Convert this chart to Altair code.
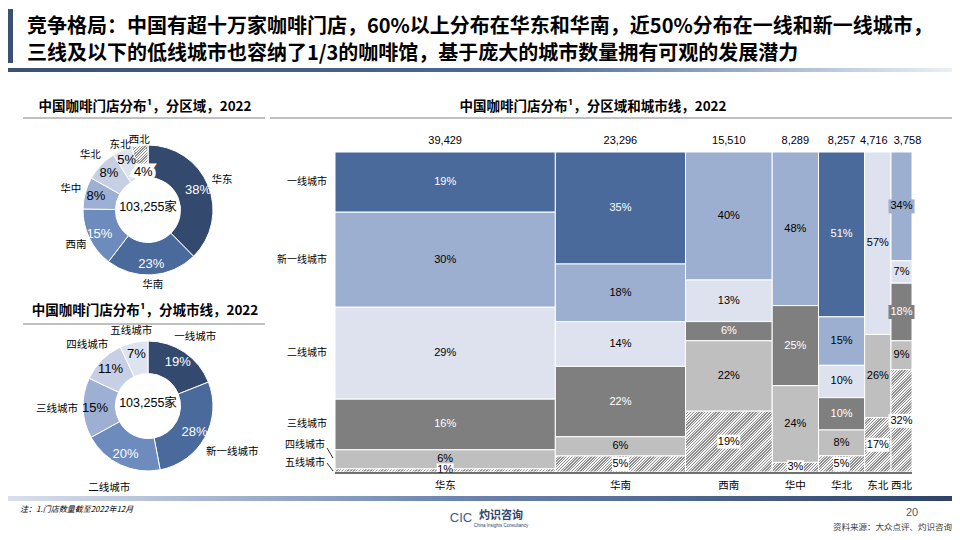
import math
import pandas as pd
import altair as alt

# ---------------- data ----------------
regions = ["华东", "华南", "西南", "华中", "华北", "东北", "西北"]
region_stores = [39429, 23296, 15510, 8289, 8257, 4716, 3758]
region_share = [38, 23, 15, 8, 8, 5, 4]

tiers = ["一线城市", "新一线城市", "二线城市", "三线城市", "四线城市", "五线城市"]
tier_share = [19, 28, 20, 15, 11, 7]
total_label = "103,255家"

# share of each city tier inside each region (order follows `regions`)
pct_tier1 = [19, 35, 0, 0, 51, 0, 0]
pct_newtier1 = [30, 18, 40, 48, 15, 0, 34]
pct_tier2 = [29, 14, 13, 0, 10, 57, 7]
pct_tier3 = [16, 22, 6, 25, 10, 0, 18]
pct_tier4 = [6, 6, 22, 24, 8, 26, 9]
pct_tier5 = [1, 5, 19, 3, 5, 17, 32]
tier_pcts = [pct_tier1, pct_newtier1, pct_tier2, pct_tier3, pct_tier4, pct_tier5]

title_1 = "竞争格局：中国有超十万家咖啡门店，60%以上分布在华东和华南，近50%分布在一线和新一线城市，"
title_2 = "三线及以下的低线城市也容纳了1/3的咖啡馆，基于庞大的城市数量拥有可观的发展潜力"
sub_1 = "中国咖啡门店分布¹，分区域，2022"
sub_2 = "中国咖啡门店分布¹，分城市线，2022"
sub_3 = "中国咖啡门店分布¹，分区域和城市线，2022"
note = "注：1.门店数量截至2022年12月"
source = "资料来源：大众点评、灼识咨询"
page_no = "20"

# ---------------- styling ----------------
CJK = "Noto Sans CJK SC"
LAT = "Liberation Sans"
MIX = "Liberation Sans, Noto Sans CJK SC"
OFF = 8


def X(v):
    return v - OFF


def Y(v):
    return v - OFF


DONUT_PAL = ["#34496e", "#4b6a9c", "#6d8bbd", "#9db0d3", "#c6cfe3", "#dde3ef", "#dde3ef"]
MEKKO_FILL = {"一线城市": "#4a6a9b", "新一线城市": "#9cafd1", "二线城市": "#dde2ee",
              "三线城市": "#7f7f7f", "四线城市": "#bfbfbf", "五线城市": "#ffffff"}
MEKKO_TXT = {"一线城市": "white", "三线城市": "white"}


def hatch(w, h, period=2.0, dark="#8e8e8e", light="#f4f4f4", frac=0.5):
    w = max(w, 1.0)
    h = max(h, 1.0)
    L = (w * w + h * h) / (w + h)
    n = max(1, int(round((w + h) / (period * math.sqrt(2)))))
    stops = []
    for k in range(n):
        a, b, c = k / n, (k + frac) / n, (k + 1) / n
        stops += [{"offset": a, "color": dark}, {"offset": b, "color": dark},
                  {"offset": b, "color": light}, {"offset": c, "color": light}]
    return {"gradient": "linear", "x1": 0, "y1": 0, "x2": w / L, "y2": h / L, "stops": stops}


DUMMY = pd.DataFrame({"d": [0]})


def txt(t, x, y, size=10, font=CJK, color="#000000", weight="normal", align="center",
        baseline="middle", italic=False):
    kw = dict(text=t, fontSize=size, font=font, color=color, fontWeight=weight,
              align=align, baseline=baseline)
    if italic:
        kw["fontStyle"] = "italic"
    return alt.Chart(DUMMY).mark_text(**kw).encode(x=alt.value(X(x)), y=alt.value(Y(y)))


def rule(x0, y0, x1, y1, color="#808080", w=1.0):
    return alt.Chart(DUMMY).mark_rule(color=color, strokeWidth=w).encode(
        x=alt.value(X(x0)), y=alt.value(Y(y0)), x2=alt.value(X(x1)), y2=alt.value(Y(y1)))


def band(x0, y0, x1, y1, fill):
    return alt.Chart(DUMMY).mark_rect(fill=fill).encode(
        x=alt.value(max(X(x0), 0)), x2=alt.value(X(x1)),
        y=alt.value(Y(y0)), y2=alt.value(Y(y1)))


layers = []

# ---------------- header / footer decoration ----------------
layers.append(band(0, 9, 13, 63, "#3b5172"))
layers.append(band(0, 68, 960, 72, {"gradient": "linear", "x1": 0, "y1": 0, "x2": 1, "y2": 0,
                                     "stops": [{"offset": 0, "color": "#3b5172"},
                                               {"offset": 0.55, "color": "#4d6a98"},
                                               {"offset": 1, "color": "#eef2f8"}]}))
layers.append(band(0, 496, 960, 501, {"gradient": "linear", "x1": 0, "y1": 0, "x2": 1, "y2": 0,
                                       "stops": [{"offset": 0, "color": "#d9e0ec"},
                                                 {"offset": 0.45, "color": "#6f88b3"},
                                                 {"offset": 1, "color": "#2d4169"}]}))
layers.append(txt(title_1, 27, 27, size=20, weight="bold", align="left"))
layers.append(txt(title_2, 27, 54, size=20, weight="bold", align="left"))

layers.append(txt(sub_1, 145, 107, size=13.5, weight="bold"))
layers.append(rule(23, 118, 265, 118))
layers.append(txt(sub_2, 145, 311, size=13.5, weight="bold"))
layers.append(rule(23, 324, 265, 324))
layers.append(txt(sub_3, 593, 107, size=13.5, weight="bold"))
layers.append(rule(270, 118, 960, 118))

layers.append(txt(note, 20, 510, size=8, italic=True, align="left"))
layers.append(txt(page_no, 912, 513, size=11, font=LAT, color="#595959"))
layers.append(txt(source, 952, 527, size=8.5, color="#404040", align="right"))
layers.append(txt("CIC", 461, 518, size=13, font=LAT, color="#3a5a8c"))
layers.append(txt("灼识咨询", 501, 516, size=11, weight="bold", color="#2d4169"))
layers.append(txt("China Insights Consultancy", 501, 526, size=4.5, font=LAT, color="#2d4169"))

# ---------------- donuts ----------------
theta_scale = alt.Scale(domain=[0, 1], range=[0, 2 * math.pi])


def donut_df(names, shares, n_light):
    s = sum(shares)
    acc = 0
    rows = []
    for i, (n, p) in enumerate(zip(names, shares)):
        t0 = acc / s
        acc += p
        t1 = acc / s
        rows.append(dict(name=n, share=p, t0=t0, t1=t1, tm=(t0 + t1) / 2, label=f"{p}%",
                         fill=DONUT_PAL[i], tcolor="white" if i < n_light else "black"))
    return pd.DataFrame(rows)


def donut_layers(df, cx, cy, r_in_lab, out_radii, hatched=None, special_r=None):
    out = []
    base = alt.Chart(df)
    th = alt.Theta("t0:Q", scale=theta_scale, stack=None)
    pos = dict(x=alt.value(X(cx)), y=alt.value(Y(cy)))
    out.append(base.mark_arc(outerRadius=65, innerRadius=32.5, stroke="white", strokeWidth=1).encode(
        theta=th, theta2="t1:Q", fill=alt.Fill("fill:N", scale=None), **pos))
    if hatched is not None:
        out.append(alt.Chart(df[df.name == hatched]).mark_arc(
            outerRadius=65, innerRadius=32.5, stroke="white", strokeWidth=1,
            fill=hatch(16, 34)).encode(theta=th, theta2="t1:Q", **pos))
    thm = alt.Theta("tm:Q", scale=theta_scale, stack=None)
    normal = df if hatched is None else df[df.name != hatched]
    out.append(alt.Chart(normal).mark_text(radius=r_in_lab, font=LAT, fontSize=13).encode(
        theta=thm, text="label:N", color=alt.Color("tcolor:N", scale=None), **pos))
    if hatched is not None:
        sp = df[df.name == hatched]
        out.append(alt.Chart(sp).mark_text(radius=special_r, font=LAT, fontSize=13, color="white",
                                           stroke="white", strokeWidth=7, strokeJoin="miter").encode(
            theta=thm, text="label:N", **pos))
        out.append(alt.Chart(sp).mark_text(radius=special_r, font=LAT, fontSize=13, color="black").encode(
            theta=thm, text="label:N", **pos))
    for names, r in out_radii:
        out.append(alt.Chart(df[df.name.isin(names)]).mark_text(
            radius=r, font=CJK, fontSize=10.5, color="#000000").encode(
            theta=thm, text="name:N", **pos))
    return out


d1 = donut_df(regions, region_share, 3)
d2 = donut_df(tiers, tier_share, 3)
layers += donut_layers(d1, 148, 210, 54,
                       [(["华东", "西南", "华中", "华北"], 80), (["华南"], 75), (["东北", "西北"], 71)],
                       hatched="西北", special_r=38)
layers += donut_layers(d2, 148, 406, 53,
                       [(["一线城市"], 84), (["新一线城市"], 96), (["二线城市", "三线城市"], 91),
                        (["四线城市"], 86), (["五线城市"], 77)])
layers.append(txt(total_label, 148, 207, size=12.5, font=MIX))
layers.append(txt(total_label, 148, 403, size=12.5, font=MIX))

# ---------------- marimekko ----------------
MX0, MX1, MY0, MY1 = 335, 912, 152, 472
total = sum(region_stores)
PPX = (MX1 - MX0) / total     # pixels per store
PPY = (MY1 - MY0) / 100       # pixels per percent
rows = []
cum = 0
for i, r in enumerate(regions):
    x0 = cum
    x1 = cum + region_stores[i]
    cum = x1
    col = [tier_pcts[j][i] for j in range(len(tiers))]
    s = sum(col)
    acc = 0
    for j, t in enumerate(tiers):
        p = col[j]
        if p == 0:
            continue
        y0 = acc / s * 100
        acc += p
        y1 = acc / s * 100
        rows.append(dict(region=r, tier=t, pct=p, x0=x0, x1=x1, y0=y0, y1=y1,
                         xm=(x0 + x1) / 2, ym=(y0 + y1) / 2, label=f"{p}%",
                         fill=MEKKO_FILL[t], tcolor=MEKKO_TXT.get(t, "black")))
mk = pd.DataFrame(rows)

xs = alt.Scale(domain=[0, total], range=[X(MX0), X(MX1)], nice=False, zero=False)
ys = alt.Scale(domain=[0, 100], range=[Y(MY0), Y(MY1)], nice=False, zero=False)
enc_rect = dict(x=alt.X("x0:Q", scale=xs, axis=None), x2="x1:Q",
                y=alt.Y("y0:Q", scale=ys, axis=None), y2="y1:Q")

layers.append(alt.Chart(mk[mk.tier != "五线城市"]).mark_rect(stroke="white", strokeWidth=1).encode(
    fill=alt.Fill("fill:N", scale=None), **enc_rect))
for _, rw in mk[mk.tier == "五线城市"].iterrows():
    w = (rw.x1 - rw.x0) * PPX
    h = (rw.y1 - rw.y0) * PPY
    layers.append(alt.Chart(mk[(mk.tier == "五线城市") & (mk.region == rw.region)]).mark_rect(
        fill=hatch(w, h), stroke="white", strokeWidth=1).encode(**enc_rect))

# label background boxes (half sizes given in pixels, converted to data units)
bx = mk[(mk.tier == "五线城市") | ((mk.region == "西北") & mk.tier.isin(["新一线城市", "三线城市"]))].copy()
hw = [13.0 if (r == "西北" and len(l) == 3) else (8.5 if len(l) == 2 else 11.5)
      for l, r in zip(bx.label, bx.region)]
bx["bx0"] = bx.xm - pd.Series(hw, index=bx.index) / PPX
bx["bx1"] = bx.xm + pd.Series(hw, index=bx.index) / PPX
bx["by0"] = bx.ym - 7 / PPY
bx["by1"] = bx.ym + 7 / PPY
layers.append(alt.Chart(bx).mark_rect().encode(
    x=alt.X("bx0:Q", scale=xs, axis=None), x2="bx1:Q",
    y=alt.Y("by0:Q", scale=ys, axis=None), y2="by1:Q",
    fill=alt.Fill("fill:N", scale=None)))

layers.append(alt.Chart(mk).mark_text(font=LAT, fontSize=11).encode(
    x=alt.X("xm:Q", scale=xs, axis=None), y=alt.Y("ym:Q", scale=ys, axis=None),
    text="label:N", color=alt.Color("tcolor:N", scale=None)))

# column totals and region names
cols = mk.drop_duplicates("region")[["region", "xm"]].copy()
cols["count"] = [f"{v:,}" for v in region_stores]
wide = cols[~cols.region.isin(["东北", "西北"])]
layers.append(alt.Chart(wide).mark_text(font=LAT, fontSize=11).encode(
    x=alt.X("xm:Q", scale=xs, axis=None), y=alt.value(Y(141)), text="count:N"))
layers.append(alt.Chart(cols[cols.region == "东北"]).mark_text(font=LAT, fontSize=11, dx=-4).encode(
    x=alt.X("xm:Q", scale=xs, axis=None), y=alt.value(Y(141)), text="count:N"))
layers.append(alt.Chart(cols[cols.region == "西北"]).mark_text(font=LAT, fontSize=11, dx=6).encode(
    x=alt.X("xm:Q", scale=xs, axis=None), y=alt.value(Y(141)), text="count:N"))
layers.append(alt.Chart(cols).mark_text(font=CJK, fontSize=10.5).encode(
    x=alt.X("xm:Q", scale=xs, axis=None), y=alt.value(Y(486)), text="region:N"))
layers.append(rule(MX0, 473, MX1, 473, color="#404040", w=1.3))

# row labels (aligned to the first column)
first = mk[mk.region == regions[0]]
layers.append(alt.Chart(first[first.tier.isin(tiers[:4])]).mark_text(
    font=CJK, fontSize=10, align="right").encode(
    x=alt.value(X(327)), y=alt.Y("ym:Q", scale=ys, axis=None), text="tier:N"))
layers.append(alt.Chart(first[first.tier == tiers[4]]).mark_text(
    font=CJK, fontSize=10, align="right", dy=-14).encode(
    x=alt.value(X(325)), y=alt.Y("ym:Q", scale=ys, axis=None), text="tier:N"))
layers.append(alt.Chart(first[first.tier == tiers[5]]).mark_text(
    font=CJK, fontSize=10, align="right", dy=-7).encode(
    x=alt.value(X(325)), y=alt.Y("ym:Q", scale=ys, axis=None), text="tier:N"))
layers.append(rule(327, 448, 333, 458, color="#000000", w=0.8))
layers.append(rule(327, 463, 333, 471, color="#000000", w=0.8))

chart = alt.layer(*layers).properties(
    width=944, height=524, padding=0, autosize=alt.AutoSizeParams(type="none")
).configure_view(stroke=None)

chart.save("out.html", embed_options={"renderer": "svg", "actions": False})
